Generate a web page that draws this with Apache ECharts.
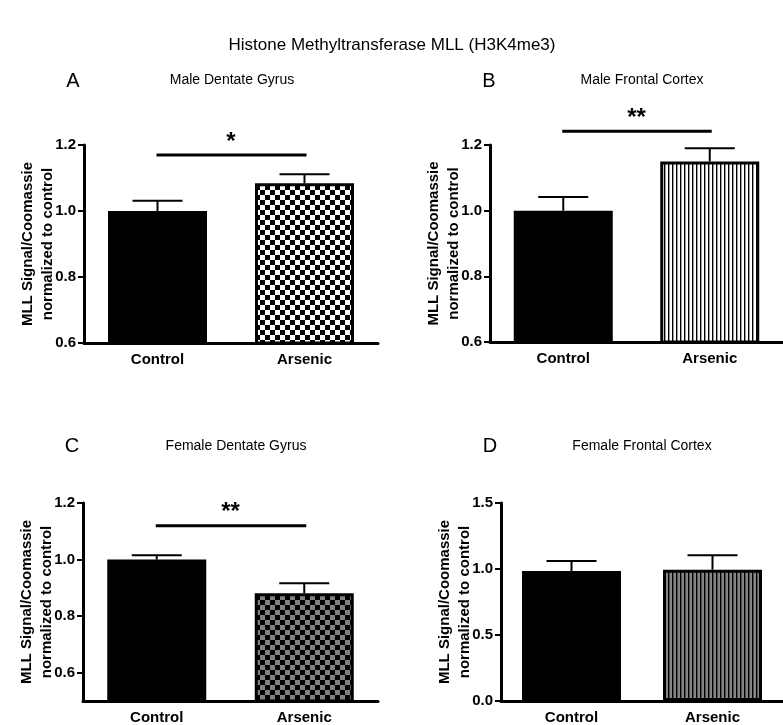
<!DOCTYPE html>
<html>
<head>
<meta charset="utf-8">
<script src="https://cdn.jsdelivr.net/npm/echarts@6/dist/echarts.min.js"></script>
<style>html,body{margin:0;padding:0;background:#fff}#c{width:783px;height:725px}</style>
</head>
<body>
<div id="c"></div>
<script>
// ---- data ----
const categories = ['Control', 'Arsenic'];
const mainTitle = 'Histone Methyltransferase MLL (H3K4me3)';
const panelLetters = ['A', 'B', 'C', 'D'];
const panelTitles = ['Male Dentate Gyrus', 'Male Frontal Cortex', 'Female Dentate Gyrus', 'Female Frontal Cortex'];
const yTitle = 'MLL Signal/Coomassie\nnormalized to control';
const meansA = [1.0, 1.084];  const errA = [0.031, 0.027];
const meansB = [1.0, 1.150];  const errB = [0.042, 0.040];
const meansC = [1.0, 0.881];  const errC = [0.015, 0.035];
const meansD = [0.985, 0.995]; const errD = [0.076, 0.110];
const sigLevels = [1.17, 1.242, 1.12, null];
const sigStars = ['*', '**', '**', ''];
const yMins = [0.6, 0.6, 0.5, 0];
const yMaxs = [1.2, 1.2, 1.2, 1.5];
const yTicks = [
  [0.6, 0.8, 1.0, 1.2],
  [0.6, 0.8, 1.0, 1.2],
  [0.6, 0.8, 1.0, 1.2],
  [0.0, 0.5, 1.0, 1.5]
];

// ---- layout / style ----
const FONT = '"Liberation Sans", Arial, sans-serif';
const grids = [
  {left: 84, top: 145, width: 294, height: 198},
  {left: 490, top: 145, width: 294, height: 197},
  {left: 83, top: 503, width: 295, height: 198},
  {left: 501, top: 503, width: 298, height: 198}
];
const letterPos = [[73, 81], [489, 81], [72, 446], [490, 446]];
const subPos = [[232, 80], [642, 80], [236, 446], [642, 446]];

function checker(c1, c2, s) {
  const cv = document.createElement('canvas');
  cv.width = cv.height = 2 * s;
  const ctx = cv.getContext('2d');
  ctx.fillStyle = c1; ctx.fillRect(0, 0, 2 * s, 2 * s);
  ctx.fillStyle = c2; ctx.fillRect(0, 0, s, s); ctx.fillRect(s, s, s, s);
  return cv;
}
function stripes(cols) {
  const cv = document.createElement('canvas');
  cv.width = cols.length; cv.height = 4;
  const ctx = cv.getContext('2d');
  cols.forEach((c, i) => { ctx.fillStyle = c; ctx.fillRect(i, 0, 1, 4); });
  return cv;
}
const patterns = [
  {image: checker('#ffffff', '#000000', 5), repeat: 'repeat'},
  {image: stripes(['#000000', '#9a9a9a', '#ffffff', '#ffffff']), repeat: 'repeat'},
  {image: checker('#808080', '#000000', 5), repeat: 'repeat'},
  {image: stripes(['#000000', '#505050', '#858585', '#858585']), repeat: 'repeat'}
];
const means = [meansA, meansB, meansC, meansD];
const errs = [errA, errB, errC, errD];

const option = {
  animation: false,
  backgroundColor: '#fff',
  grid: grids.map(g => Object.assign({containLabel: false}, g)),
  xAxis: grids.map((g, i) => ({
    type: 'category', gridIndex: i, data: categories,
    axisLine: {lineStyle: {color: '#000', width: 3}},
    axisTick: {alignWithLabel: true, length: 7, lineStyle: {color: '#000', width: 2.5}},
    axisLabel: {color: '#000', fontFamily: FONT, fontWeight: 'bold', fontSize: 15, margin: 9},
    splitLine: {show: false}
  })),
  yAxis: grids.map((g, i) => ({
    type: 'value', gridIndex: i, min: yMins[i], max: yMaxs[i],
    name: yTitle, nameLocation: 'middle', nameGap: 26, nameMoveOverlap: false,
    nameTextStyle: {color: '#000', fontFamily: FONT, fontWeight: 'bold', fontSize: 15, lineHeight: 20},
    axisLine: {show: true, lineStyle: {color: '#000', width: 3}},
    axisTick: {show: true, length: 6, lineStyle: {color: '#000', width: 2}, customValues: yTicks[i]},
    axisLabel: {color: '#000', fontFamily: FONT, fontWeight: 'bold', fontSize: 15, margin: 8,
      customValues: yTicks[i], formatter: v => v.toFixed(1)},
    splitLine: {show: false}
  })),
  graphic: [
    {type: 'text', x: 392, y: 45, style: {text: mainTitle, font: '17px ' + FONT, fill: '#000', textAlign: 'center', textVerticalAlign: 'middle', align: 'center', verticalAlign: 'middle'}}
  ].concat(panelLetters.map((t, i) => ({
    type: 'text', x: letterPos[i][0], y: letterPos[i][1],
    style: {text: t, font: '20px ' + FONT, fill: '#000', textAlign: 'center', textVerticalAlign: 'middle', align: 'center', verticalAlign: 'middle'}
  }))).concat(panelTitles.map((t, i) => ({
    type: 'text', x: subPos[i][0], y: subPos[i][1],
    style: {text: t, font: '14px ' + FONT, fill: '#000', textAlign: 'center', textVerticalAlign: 'middle', align: 'center', verticalAlign: 'middle'}
  }))),
  series: []
};

for (let i = 0; i < 4; i++) {
  option.series.push({
    type: 'bar', xAxisIndex: i, yAxisIndex: i, barWidth: 99, clip: true,
    data: means[i].map((v, k) => ({
      value: v,
      itemStyle: k === 0 ? {color: '#000'} : {color: patterns[i], borderColor: '#000', borderWidth: 3}
    })),
    z: 2
  });
  option.series.push({
    type: 'custom', xAxisIndex: i, yAxisIndex: i, clip: false, z: 3,
    data: means[i].map((v, k) => [k, v, errs[i][k]]),
    renderItem: (params, api) => {
      const x = api.value(0), m = api.value(1), e = api.value(2);
      const b = api.coord([x, m]);
      const t = api.coord([x, m + e]);
      return {type: 'group', children: [
        {type: 'line', shape: {x1: b[0], y1: b[1], x2: t[0], y2: t[1]}, style: {stroke: '#000', lineWidth: 2}},
        {type: 'line', shape: {x1: t[0] - 25, y1: t[1], x2: t[0] + 25, y2: t[1]}, style: {stroke: '#000', lineWidth: 2}}
      ]};
    }
  });
  if (sigLevels[i] !== null) {
    const star = sigStars[i];
    option.series.push({
      type: 'custom', xAxisIndex: i, yAxisIndex: i, clip: false, z: 3,
      data: [[0, sigLevels[i]]],
      renderItem: (params, api) => {
        const y = api.value(1);
        const p0 = api.coord([0, y]);
        const p1 = api.coord([1, y]);
        return {type: 'group', children: [
          {type: 'line', shape: {x1: p0[0] - 1, y1: p0[1], x2: p1[0] + 2, y2: p1[1]}, style: {stroke: '#000', lineWidth: 3}},
          {type: 'text', x: (p0[0] + p1[0]) / 2, y: p0[1] - 13,
           style: {text: star, font: 'bold 24px ' + FONT, fill: '#000', textAlign: 'center', textVerticalAlign: 'middle', align: 'center', verticalAlign: 'middle'}}
        ]};
      }
    });
  }
}

const chart = echarts.init(document.getElementById('c'), null, {renderer: 'canvas'});
chart.setOption(option);
</script>
</body>
</html>
